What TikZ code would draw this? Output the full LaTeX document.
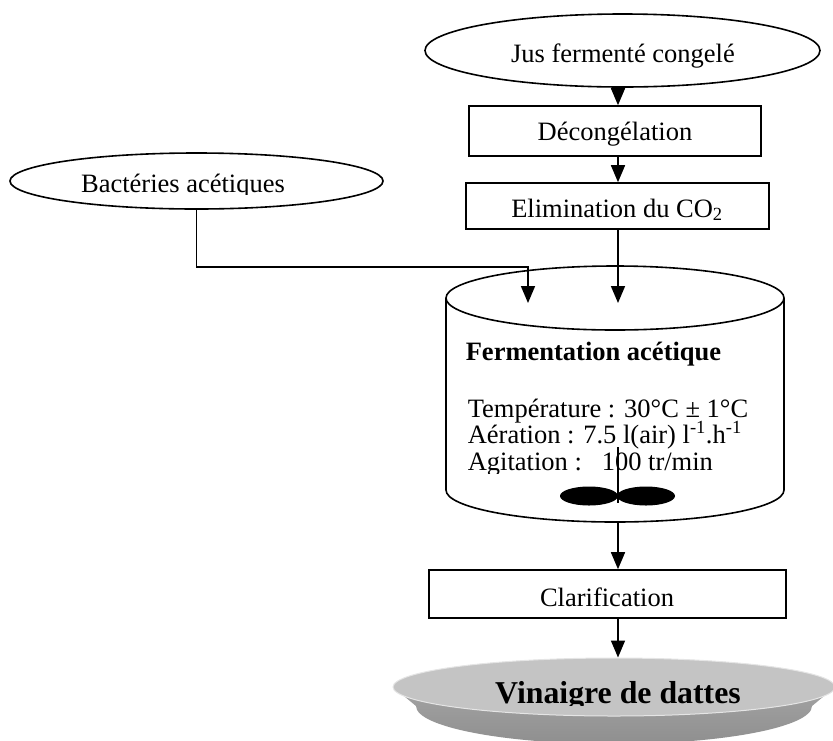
\documentclass[tikz,border=0pt]{standalone}
\usepackage{fontspec}
\setmainfont{Liberation Serif}
\usetikzlibrary{arrows.meta,shapes.geometric}
\begin{document}
\begin{tikzpicture}[x=1pt,y=1pt,
  line width=1.6pt,
  flow/.style={-{Triangle[width=14pt,length=17pt]}},
  txt/.style={inner sep=0pt, anchor=base, font=\fontsize{26.5}{30}\selectfont},
  boldtxt/.style={inner sep=0pt, anchor=base, font=\bfseries\fontsize{26.5}{30}\selectfont},
  stepbox/.style={draw, rectangle, inner sep=0pt},
  oval/.style={draw, ellipse, inner sep=0pt},
]
\useasboundingbox (0,0) rectangle (833,-740);

% main vertical line of the process
\coordinate (spine) at (618,0);

% inputs
\node[oval, minimum width=395, minimum height=73] (jus) at (622.5,-50.5) {};
\node[txt] (justxt) at (623,-62) {Jus fermenté congelé};

\node[oval, minimum width=373, minimum height=56] (bact) at (196.5,-181) {};
\begin{scope}
  \clip (0,-150) rectangle (400,-194);
  \node[txt] (bacttxt) at (183,-192) {Bactéries acétiques};
\end{scope}

% pre-treatment steps
\node[stepbox, minimum width=292, minimum height=50] (decong) at (615,-131) {};
\node[txt] (decongtxt) at (615,-140) {Décongélation};

\node[stepbox, minimum width=303, minimum height=46] (elim) at (617.5,-206) {};
\begin{scope}
  \clip (466,-183) rectangle (769,-219);
  \node[txt] (elimtxt) at (617,-217) {Elimination du CO\textsubscript{2}};
\end{scope}

% fermenter
\draw (446,-298) -- (446,-490)
  arc[start angle=180, end angle=360, x radius=169, y radius=32] -- (784,-298);
\node[oval, minimum width=338, minimum height=64] (cyltop) at (615,-298) {};
\coordinate (inL) at (528,-303);
\coordinate (inR) at (618,-303);
\coordinate (bend) at (528,-267);
\coordinate (cylbot) at (618,-522);

\node[boldtxt, anchor=base west] (fermtitle) at (465,-360) {Fermentation acétique};
\node[txt, anchor=base west] (temp) at (467,-417) {Température : 30°C ± 1°C};
\node[txt, anchor=base west] (aer) at (467,-443) {Aération : 7.5 l(air) l\textsuperscript{-1}.h\textsuperscript{-1}};
\begin{scope}
  \clip (440,-440) rectangle (790,-473);
  \node[txt, anchor=base west] (agit) at (467,-470) {Agitation :\ \ \ 100 tr/min};
\end{scope}

% stirrer
\fill (589,-496) ellipse [x radius=29, y radius=9.5];
\fill (646,-496) ellipse [x radius=29, y radius=9.5];
\coordinate (shafttop) at (618,-447);
\coordinate (shaftbot) at (618,-503);
\draw[line width=2.4pt] (shafttop) -- (shaftbot);

% post-treatment
\node[stepbox, minimum width=357, minimum height=48] (clar) at (607.5,-594) {};
\node[txt] (clartxt) at (607,-606) {Clarification};

% product dish
\shade[top color=black!36, bottom color=black!44]
  (393,-687) -- (416,-706)
  arc[start angle=180, end angle=360, x radius=198, y radius=38]
  -- (835,-687) -- cycle;
\node[oval, draw=black!10, line width=1pt, fill=black!23,
      minimum width=442, minimum height=58] (vin) at (614,-687) {};
\begin{scope}
  \clip (393,-650) rectangle (833,-705);
  \node[boldtxt, font=\bfseries\fontsize{31.8}{36}\selectfont] (vintxt) at (618,-703) {Vinaigre de dattes};
\end{scope}

% connectors
\draw[flow] (jus.south -| spine) -- (decong.north -| spine);
\draw[flow] (decong.south -| spine) -- (elim.north -| spine);
\draw[flow] (elim.south -| spine) -- (inR);
\draw[flow] (bact.south) |- (bend) -- (inL);
\draw[flow] (cylbot) -- (clar.north -| spine);
\draw[flow] (clar.south -| spine) -- (vin.north -| spine);
\end{tikzpicture}
\end{document}
